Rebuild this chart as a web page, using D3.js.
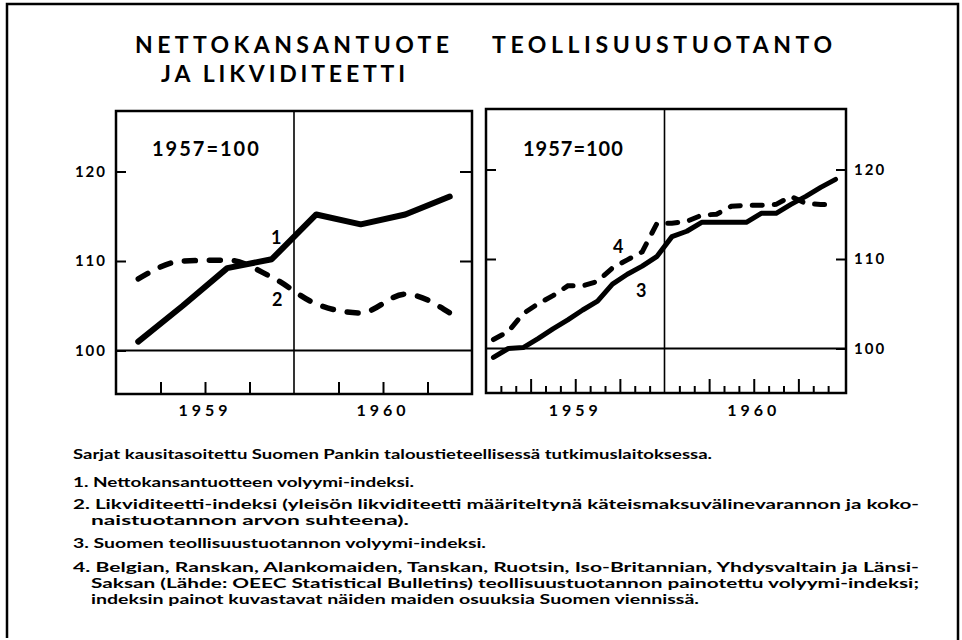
<!DOCTYPE html>
<html>
<head>
<meta charset="utf-8">
<script src="https://cdn.jsdelivr.net/npm/d3@7"></script>
<style>
body{margin:0;background:#fff}
svg{display:block}
text{font-family:Lato,'Open Sans',sans-serif;font-weight:bold;fill:#000}
</style>
</head>
<body>
<svg id="chart" width="962" height="640"></svg>
<script>
// quarterly series (left panel), 1959 I - 1960 IV
const quarters = ['1959-1','1959-2','1959-3','1959-4','1960-1','1960-2','1960-3','1960-4']
const nettokansantuote = [101, 105, 109.2, 110.2, 115.2, 114.1, 115.2, 117.2]
const likviditeetti = [108, 110, 110.1, 108.2, 105.2, 104.2, 106.3, 104.2]

// monthly series (right panel), 1959/1 - 1960/12
const months = d3.range(24)
const teollisuus = [99, 100, 100.1, 101.1, 102.2, 103.2, 104.3, 105.3, 107.2, 108.3, 109.2, 110.3,
	112.5, 113.1, 114.1, 114.1, 114.1, 114.1, 115.1, 115.1, 116.1, 117, 118, 118.9]
const oeec = [101, 101.9, 103.9, 105, 105.9, 107, 107, 107.5, 109, 109.9, 110.8, 114,
	114, 114.2, 114.9, 115, 115.9, 116, 116, 116.1, 117, 116.2, 116.1, 116.1]

const years = ['1959','1960']
const yTicks = [100,110,120]

const svg = d3.select('#chart')

// outer frame (no bottom)
svg.append('path')
	.attr('d','M7,638 L7,4 L958,4 L958,640')
	.attr('fill','none').attr('stroke','#000').attr('stroke-width',2.5)

// titles
const titles = [
	{t:'NETTOKANSANTUOTE', x:135, y:53, w:314},
	{t:'JA LIKVIDITEETTI', x:161, y:82, w:244},
	{t:'TEOLLISUUSTUOTANTO', x:492, y:53, w:340}
]
svg.selectAll('.title').data(titles).enter().append('text')
	.classed('title',true)
	.attr('x',d=>d.x).attr('y',d=>d.y)
	.attr('textLength',d=>d.w).attr('lengthAdjust','spacing')
	.style('font-size','23px')
	.text(d=>d.t)

// ---------- left panel ----------
const L = {x0:116, x1:472, y0:111, y1:394}
const xQ = d3.scaleLinear().domain([0,8]).range([L.x0,L.x1])
const yL = d3.scaleLinear().domain([100,120]).range([350.5,171.5])

const left = svg.append('g')

left.append('rect')
	.attr('x',L.x0).attr('y',L.y0).attr('width',L.x1-L.x0).attr('height',L.y1-L.y0)
	.attr('fill','none').attr('stroke','#000').attr('stroke-width',2.5)

left.append('line')
	.attr('x1',L.x0).attr('x2',L.x1).attr('y1',yL(100)).attr('y2',yL(100))
	.attr('stroke','#000').attr('stroke-width',1.8)
left.append('line')
	.attr('x1',xQ(4)).attr('x2',xQ(4)).attr('y1',L.y0).attr('y2',L.y1)
	.attr('stroke','#000').attr('stroke-width',1.6)

const axL = left.append('g')
	.attr('transform',`translate(${L.x0},0)`)
	.call(d3.axisLeft(yL).tickValues(yTicks).tickSize(-10).tickPadding(9))
const axLr = left.append('g')
	.attr('transform',`translate(${L.x1},0)`)
	.call(d3.axisRight(yL).tickValues([110,120]).tickSize(-12).tickFormat(''))
const axLb = left.append('g')
	.attr('transform',`translate(0,${L.y1})`)
	.call(d3.axisBottom(xQ).tickValues([1,2,3,5,6,7]).tickSize(-12).tickFormat(''))

left.selectAll('.domain').remove()
left.selectAll('.tick line').attr('stroke','#000').attr('stroke-width',2)
axL.selectAll('.tick text').style('font-size','15px').style('letter-spacing','2px')
	.attr('font-family',null).attr('font-size',null)

left.selectAll('.year').data(years).enter().append('text')
	.classed('year',true)
	.attr('x',(d,i)=>xQ(2 + i*4)).attr('y',416)
	.attr('text-anchor','middle')
	.style('font-size','16px').style('letter-spacing','4px')
	.text(d=>d)

const lineQ = d3.line().x((d,i)=>xQ(i+0.5)).y(d=>yL(d))

left.append('path')
	.datum(likviditeetti)
	.attr('d',lineQ.curve(d3.curveMonotoneX))
	.attr('fill','none').attr('stroke','#000').attr('stroke-width',5.5)
	.attr('stroke-dasharray','11,14').attr('stroke-linecap','round')

left.append('path')
	.datum(nettokansantuote)
	.attr('d',lineQ.curve(d3.curveLinear))
	.attr('fill','none').attr('stroke','#000').attr('stroke-width',6)
	.attr('stroke-linejoin','round').attr('stroke-linecap','round')

left.append('text').attr('x',152).attr('y',156)
	.style('font-size','20px').style('letter-spacing','2px').text('1957=100')
left.append('text').attr('x',271).attr('y',244).style('font-size','18px').text('1')
left.append('text').attr('x',272).attr('y',306).style('font-size','18px').text('2')

// ---------- right panel ----------
const R = {x0:486, x1:846, y0:109, y1:393}
const xM = d3.scaleLinear().domain([0,24]).range([486,843])
const yR = d3.scaleLinear().domain([100,120]).range([348.5,169.5])

const right = svg.append('g')

right.append('rect')
	.attr('x',R.x0).attr('y',R.y0).attr('width',R.x1-R.x0).attr('height',R.y1-R.y0)
	.attr('fill','none').attr('stroke','#000').attr('stroke-width',2.5)

right.append('line')
	.attr('x1',R.x0).attr('x2',R.x1).attr('y1',yR(100)).attr('y2',yR(100))
	.attr('stroke','#000').attr('stroke-width',1.8)
right.append('line')
	.attr('x1',xM(12)).attr('x2',xM(12)).attr('y1',R.y0).attr('y2',R.y1)
	.attr('stroke','#000').attr('stroke-width',1.6)

const axR = right.append('g')
	.attr('transform',`translate(${R.x1},0)`)
	.call(d3.axisRight(yR).tickValues(yTicks).tickSize(-10).tickPadding(8))
right.append('g')
	.attr('transform',`translate(${R.x0},0)`)
	.call(d3.axisLeft(yR).tickValues([110,120]).tickSize(-10).tickFormat(''))
right.append('g')
	.attr('transform',`translate(0,${R.y1})`)
	.call(d3.axisBottom(xM).tickValues(d3.range(1,24).filter(m=>m%3!=0)).tickSize(-7).tickFormat(''))
right.append('g')
	.attr('transform',`translate(0,${R.y1})`)
	.call(d3.axisBottom(xM).tickValues([3,6,9,15,18,21]).tickSize(-14).tickFormat(''))

right.selectAll('.domain').remove()
right.selectAll('.tick line').attr('stroke','#000').attr('stroke-width',2)
axR.selectAll('.tick text').style('font-size','15px').style('letter-spacing','2px')
	.attr('font-family',null).attr('font-size',null)

right.selectAll('.year').data(years).enter().append('text')
	.classed('year',true)
	.attr('x',(d,i)=>xM(6 + i*12)).attr('y',416)
	.attr('text-anchor','middle')
	.style('font-size','16px').style('letter-spacing','4px')
	.text(d=>d)

const lineM = d3.line().x((d,i)=>xM(i+0.5)).y(d=>yR(d))

right.append('path')
	.datum(oeec)
	.attr('d',lineM)
	.attr('fill','none').attr('stroke','#000').attr('stroke-width',5)
	.attr('stroke-dasharray','10,12').attr('stroke-linecap','round')

right.append('path')
	.datum(teollisuus)
	.attr('d',lineM)
	.attr('fill','none').attr('stroke','#000').attr('stroke-width',5)
	.attr('stroke-linejoin','round').attr('stroke-linecap','round')

right.append('text').attr('x',523).attr('y',156)
	.style('font-size','20px').style('letter-spacing','1px').text('1957=100')
right.append('text').attr('x',613).attr('y',253).style('font-size','18px').text('4')
right.append('text').attr('x',636).attr('y',297).style('font-size','18px').text('3')

// ---------- notes ----------
const notes = [
	{t:'Sarjat kausitasoitettu Suomen Pankin taloustieteellisessä tutkimuslaitoksessa.', x:73, y:459, w:639},
	{t:'1. Nettokansantuotteen volyymi-indeksi.', x:73, y:487, w:341},
	{t:'2. Likviditeetti-indeksi (yleisön likviditeetti määriteltynä käteismaksuvälinevarannon ja koko-', x:73, y:509, w:846},
	{t:'naistuotannon arvon suhteena).', x:91, y:525, w:318},
	{t:'3. Suomen teollisuustuotannon volyymi-indeksi.', x:73, y:548, w:413},
	{t:'4. Belgian, Ranskan, Alankomaiden, Tanskan, Ruotsin, Iso-Britannian, Yhdysvaltain ja Länsi-', x:73, y:572, w:846},
	{t:'Saksan (Lähde: OEEC Statistical Bulletins) teollisuustuotannon painotettu volyymi-indeksi;', x:91, y:588, w:828},
	{t:'indeksin painot kuvastavat näiden maiden osuuksia Suomen viennissä.', x:91, y:604, w:608}
]
svg.selectAll('.note').data(notes).enter().append('text')
	.classed('note',true)
	.attr('x',d=>d.x).attr('y',d=>d.y)
	.attr('textLength',d=>d.w).attr('lengthAdjust','spacingAndGlyphs')
	.style('font-size','13px')
	.text(d=>d.t)
</script>
</body>
</html>
